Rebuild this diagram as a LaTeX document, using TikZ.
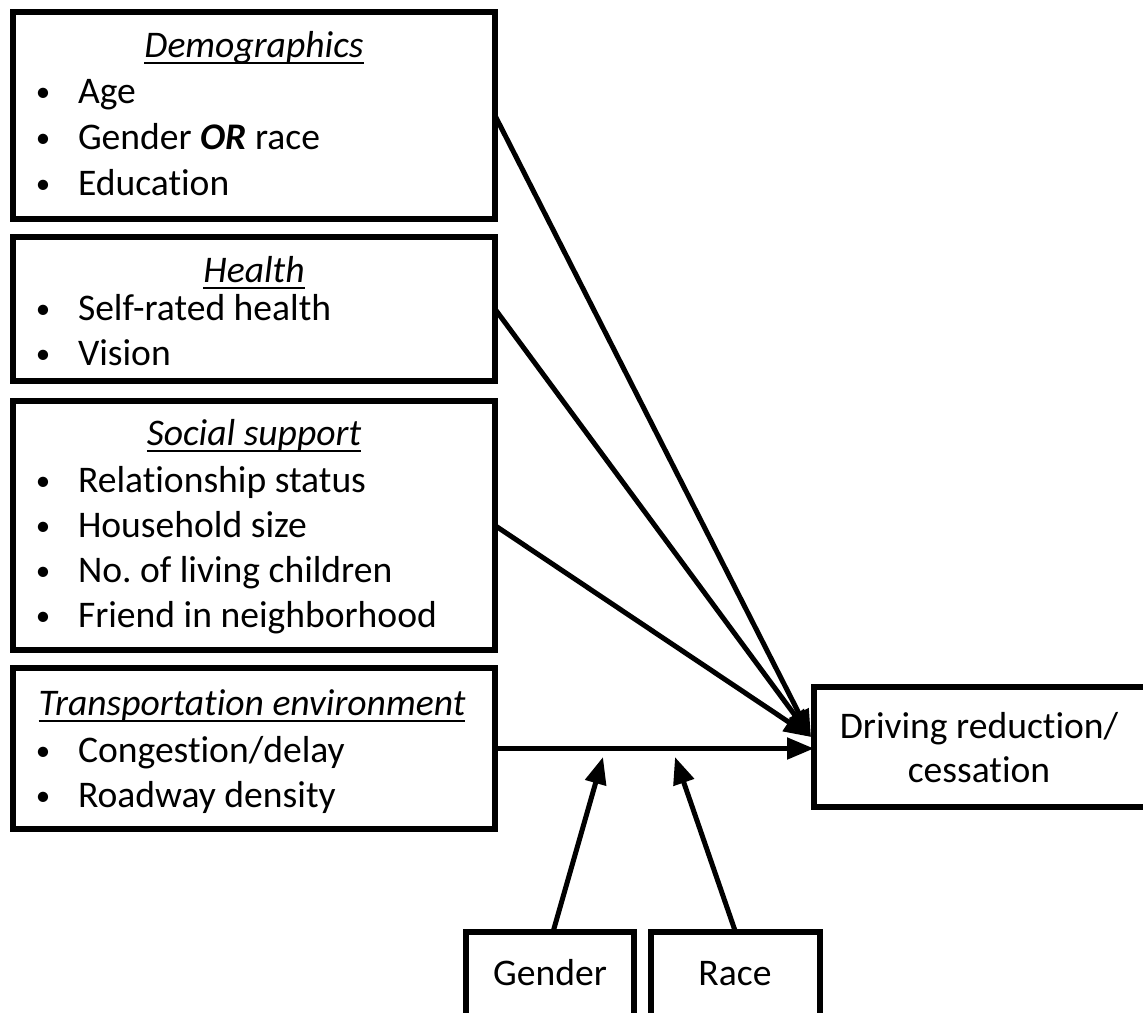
\documentclass[tikz,border=0pt]{standalone}
\usepackage{fontspec}
\setmainfont{Carlito}[Ligatures=NoCommon, RawFeature={-clig;-calt}]
\usetikzlibrary{arrows.meta}

\tikzset{
  box/.style={draw=black, line width=5.5pt, fill=none, inner sep=0pt, outer sep=0pt,
              anchor=north west, rectangle},
  txt/.style={inner sep=0pt, outer sep=0pt, anchor=base west,
              font=\fontsize{37.6}{45}\selectfont\frenchspacing},
  ctxt/.style={txt, anchor=base},
  bul/.style={inner sep=0pt, outer sep=0pt, anchor=base,
              font=\fontsize{29}{30}\selectfont},
  head/.style={ctxt, font=\fontsize{37.6}{45}\selectfont\itshape},
  uline/.style={line width=2pt},
  arr/.style={line width=5pt, -{Triangle[length=27pt,width=21pt]}},
}

\begin{document}
\begin{tikzpicture}[x=1pt, y=-1pt]
\useasboundingbox (0,0) rectangle (1143,1012);

% ---- factor boxes on the left ----
\node[box, minimum width=482pt, minimum height=207pt] (demo)   at (13,12)  {};
\node[box, minimum width=482pt, minimum height=144pt] (health) at (13,237) {};
\node[box, minimum width=482pt, minimum height=249pt] (social) at (13,401) {};
\node[box, minimum width=482pt, minimum height=161pt] (trans)  at (13,668) {};

% ---- outcome and moderator boxes ----
\node[box, minimum width=340pt, minimum height=120pt] (drive)  at (814,687) {};
\node[box, minimum width=168pt, minimum height=90pt]  (gender) at (466,932) {};
\node[box, minimum width=169pt, minimum height=90pt]  (race)   at (651,932) {};

% ---- Demographics ----
\node[head] (demoT) at (254,57) {Demographics};
\draw[uline] ([yshift=-6pt]demoT.base west) -- ([yshift=-6pt]demoT.base east);
\node[bul] (db1) at (43,101) {•};
\node[txt] (d1) at (78,103) {Age};
\node[bul] (db2) at (43,147) {•};
\node[txt] (d2) at (78,149) {Gender \textbf{\textit{OR}} race};
\node[bul] (db3) at (43,193) {•};
\node[txt] (d3) at (78,195) {Education};

% ---- Health ----
\node[head] (healthT) at (254,282) {Health};
\draw[uline] ([yshift=-6pt]healthT.base west) -- ([yshift=-6pt]healthT.base east);
\node[bul] (hb1) at (43,318) {•};
\node[txt] (h1) at (78,320) {Self-rated health};
\node[bul] (hb2) at (43,363) {•};
\node[txt] (h2) at (78,365) {Vision};

% ---- Social support ----
\node[head] (socialT) at (254,445) {Social support};
\draw[uline] ([yshift=-6pt]socialT.base west) -- ([yshift=-6pt]socialT.base east);
\node[bul] (sb1) at (43,490) {•};
\node[txt] (s1) at (78,492) {Relationship status};
\node[bul] (sb2) at (43,535) {•};
\node[txt] (s2) at (78,537) {Household size};
\node[bul] (sb3) at (43,580) {•};
\node[txt] (s3) at (78,582) {No. of living children};
\node[bul] (sb4) at (43,625) {•};
\node[txt] (s4) at (78,627) {Friend in neighborhood};

% ---- Transportation environment ----
\node[head] (transT) at (252,715) {Transportation environment};
\draw[uline] ([yshift=-6pt]transT.base west) -- ([yshift=-6pt]transT.base east);
\node[bul] (tb1) at (43,760) {•};
\node[txt] (t1) at (78,762) {Congestion/delay};
\node[bul] (tb2) at (43,805) {•};
\node[txt] (t2) at (78,807) {Roadway density};

% ---- outcome and moderator labels ----
\node[ctxt] (dr1) at (979,738) {Driving reduction/};
\node[ctxt] (dr2) at (979,782) {cessation};
\node[ctxt] (gT) at (550,985) {Gender};
\node[ctxt] (rT) at (735,985) {Race};

% ---- paths ----
\coordinate (hub)  at (811,737);
\coordinate (gtip) at (603,757);
\coordinate (rtip) at (675,757);

\draw[arr] (demo.east)   -- (hub);
\draw[arr] (health.east) -- (hub);
\draw[arr] (social.east) -- (hub);
\draw[arr] (trans.east)  -- (trans.east -| drive.west);
\draw[arr] ([xshift=3pt]gender.north) -- (gtip);
\draw[arr] (race.north) -- (rtip);
\end{tikzpicture}
\end{document}
